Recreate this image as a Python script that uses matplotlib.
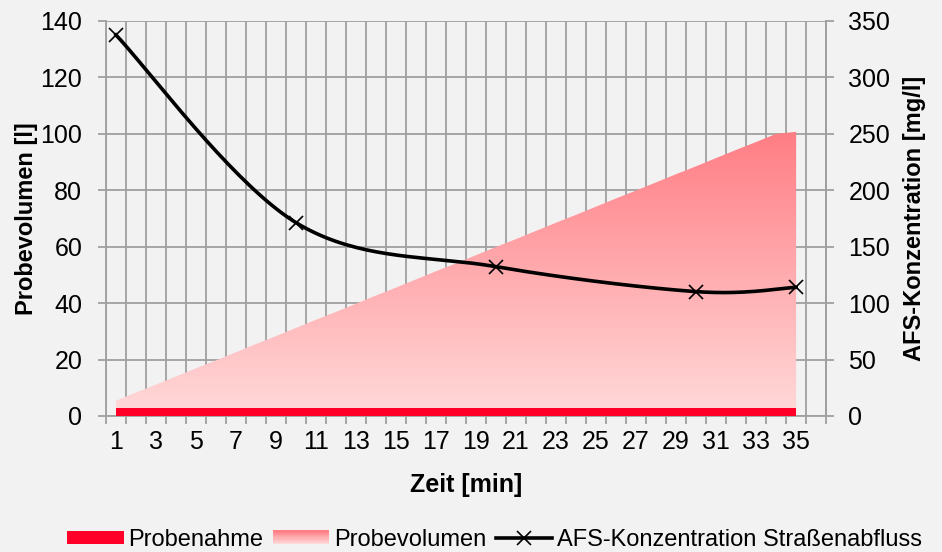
import numpy as np
import matplotlib.pyplot as plt
from matplotlib.patches import Polygon, Patch, Rectangle
from matplotlib.lines import Line2D
from matplotlib.colors import LinearSegmentedColormap
from matplotlib.legend_handler import HandlerBase

plt.rcParams['font.family'] = ['Liberation Sans', 'DejaVu Sans']

# Daten
zeit = list(range(1, 36))
probenahme = [2.7] * 35
probevolumen = [5.4, 8.3, 11.1, 14.0, 16.9, 19.7, 22.6, 25.5, 28.3, 31.2,
                34.1, 36.9, 39.8, 42.7, 45.5, 48.4, 51.3, 54.1, 57.0, 59.9,
                62.7, 65.6, 68.5, 71.3, 74.2, 77.1, 79.9, 82.8, 85.7, 88.5,
                91.4, 94.3, 97.1, 100.0, 100.7]
afs_zeit = [1, 10, 20, 30, 35]
afs_konz = [337.6, 171.3, 132.3, 110.2, 114.0]
xlabels = [str(t) for t in range(1, 36, 2)]

bg = '#f2f2f2'
gridc = '#a0a0a0'
cmap = LinearSegmentedColormap.from_list('rosa', ['#ffdada', '#ff7d84'])


class GradientHandler(HandlerBase):
    def create_artists(self, legend, orig_handle, xdescent, ydescent,
                       width, height, fontsize, trans):
        n = 12
        arts = []
        for k in range(n):
            r = Rectangle((-xdescent, -ydescent + height * k / n), width, height / n + 0.3,
                          facecolor=cmap(k / (n - 1)), edgecolor='none', transform=trans)
            arts.append(r)
        return arts


fig = plt.figure(figsize=(9.42, 5.52), dpi=100, facecolor=bg)
ax = fig.add_axes([0.1125, 0.2464, 0.7645, 0.7156])
ax.set_facecolor(bg)
ax.set_xlim(0.5, 36.5)
ax.set_ylim(0, 140)

# Probevolumen als Flaeche mit Farbverlauf
x = np.array(zeit, dtype=float)
v = np.array(probevolumen)
verts = np.vstack([np.column_stack([x, v]), [[x[-1], 0], [x[0], 0]]])
poly = Polygon(verts, closed=True, facecolor='none', edgecolor='none')
ax.add_patch(poly)
grad = np.linspace(0, 1, 256).reshape(-1, 1)
im = ax.imshow(grad, cmap=cmap, origin='lower', aspect='auto',
               extent=[x[0], x[-1], 0, v.max()], zorder=2)
im.set_clip_path(poly)

# Probenahme
ax.fill_between(x, 0, probenahme, color='#ff0028', lw=0, zorder=3)

# Gitter
ax.set_yticks(range(0, 141, 20))
ax.set_xticks(np.arange(0.5, 36.6, 1))
ax.set_xticklabels([])
ax.set_xticks(range(1, 36, 2), minor=True)
ax.set_xticklabels(xlabels, minor=True)
ax.tick_params(axis='x', which='minor', length=0, pad=10, labelsize=18)
ax.tick_params(axis='x', which='major', length=6, color=gridc, width=1.3)
ax.tick_params(axis='y', length=6, color=gridc, width=1.3, labelsize=18, pad=11)
ax.grid(True, which='major', color=gridc, lw=1.3, zorder=0)
ax.set_axisbelow(True)
ax.spines['top'].set_visible(False)
for s in ['left', 'bottom', 'right']:
    ax.spines[s].set_color(gridc)
    ax.spines[s].set_linewidth(1.3)

ax.set_xlabel('Zeit [min]', fontsize=18, fontweight='bold', labelpad=14)
ax.set_ylabel('Probevolumen [l]', fontsize=17, fontweight='bold', labelpad=2)

# AFS-Konzentration, geglaettet
ax2 = ax.twinx()
ax2.set_ylim(0, 350)
ax2.set_yticks(range(0, 351, 50))
ax2.tick_params(axis='y', length=6, color=gridc, width=1.3, labelsize=18, pad=10)
for s in ['top', 'left', 'bottom']:
    ax2.spines[s].set_visible(False)
ax2.spines['right'].set_color(gridc)
ax2.spines['right'].set_linewidth(1.3)
ax2.set_ylabel('AFS-Konzentration [mg/l]', fontsize=17, fontweight='bold', labelpad=9)

px = np.array(afs_zeit, dtype=float) * 20.0
py = np.array(afs_konz) * 1.1286
P = np.column_stack([px, py])
Pe = np.vstack([P[0], P, P[-1]])
curve = []
for i in range(len(P) - 1):
    p0, p1, p2, p3 = Pe[i], Pe[i + 1], Pe[i + 2], Pe[i + 3]
    c1 = p1 + (p2 - p0) / 6
    c2 = p2 - (p3 - p1) / 6
    t = np.linspace(0, 1, 40)[:, None]
    b = (1 - t) ** 3 * p1 + 3 * (1 - t) ** 2 * t * c1 + 3 * (1 - t) * t ** 2 * c2 + t ** 3 * p2
    curve.append(b)
curve = np.vstack(curve)
ax2.plot(curve[:, 0] / 20.0, curve[:, 1] / 1.1286, color='black', lw=2.6, zorder=5)
ax2.plot(afs_zeit, afs_konz, ls='none', marker='x', ms=10, mew=1.2, color='black', zorder=6)

grad_handle = Patch(facecolor='#ffa6ab', edgecolor='none')
handles = [Patch(facecolor='#ff0028', edgecolor='none'),
           grad_handle,
           Line2D([], [], color='black', lw=2.6, marker='x', ms=10, mew=1.2)]
labels = ['Probenahme', 'Probevolumen', 'AFS-Konzentration Straßenabfluss']
fig.legend(handles, labels, loc='center', bbox_to_anchor=(0.525, 0.022), ncol=3,
           frameon=False, fontsize=17, handlelength=2.4, handleheight=0.5,
           handletextpad=0.2, columnspacing=0.4, borderpad=0.1,
           handler_map={grad_handle: GradientHandler()})

fig.savefig('out.png', dpi=100, facecolor=bg)
